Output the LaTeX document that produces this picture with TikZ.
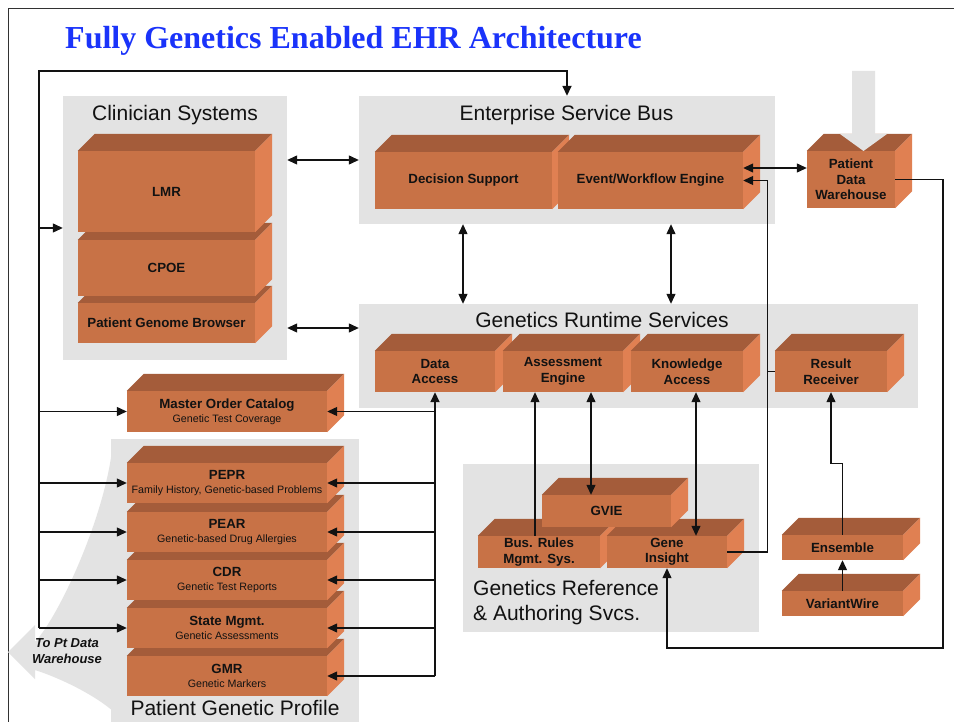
\documentclass[tikz,border=0pt]{standalone}
\usepackage{fontspec}
\setmainfont{Liberation Sans}
\newfontfamily\titlefont{Liberation Serif}
\usetikzlibrary{arrows.meta,calc}

\definecolor{grpgray}{RGB}{227,227,227}
\definecolor{blkfront}{RGB}{200,114,70}
\definecolor{blktopc}{RGB}{164,92,58}
\definecolor{blksidec}{RGB}{224,128,82}
\definecolor{titleblue}{RGB}{26,51,250}
\definecolor{ink}{RGB}{18,18,18}
\definecolor{framec}{RGB}{50,50,50}

\tikzset{
  grp/.style={fill=grpgray, draw=none, inner sep=0pt},
  grptitle/.style={inner sep=0pt, text=ink, font=\fontsize{21}{24}\selectfont},
  blk/.style={fill=blkfront, draw=none, inner sep=0pt, align=center, text=ink,
    font=\fontsize{13.3}{15.5}\selectfont\bfseries},
  blksub/.style={font=\fontsize{13.3}{14}\selectfont\bfseries},
  tip/.style={-{Triangle[length=10pt,width=9pt]}},
  arr/.style={draw=ink, line width=1.2pt, tip},
  dbl/.style={draw=ink, line width=1.2pt, {Triangle[length=10pt,width=9pt]}-{Triangle[length=10pt,width=9pt]}},
  bus/.style={draw=ink, line width=1.7pt},
  plain/.style={draw=ink, line width=1.2pt},
}

% 3-D block: front face is a named node, top and side faces are added behind it
% #1 extra options, #2 name, #3 x, #4 y (centre of front face), #5 width, #6 height, #7 label
\newcommand\brick[7][]{%
  \node[blk, minimum width=#5pt, minimum height=#6pt, #1] (#2) at (#3,#4) {#7};
  \fill[blktopc] (#2.north west) -- ([shift={(17pt,17pt)}]#2.north west)
    -- ([shift={(17pt,17pt)}]#2.north east) -- (#2.north east) -- cycle;
  \fill[blksidec] (#2.north east) -- ([shift={(17pt,17pt)}]#2.north east)
    -- ([shift={(17pt,17pt)}]#2.south east) -- (#2.south east) -- cycle;
}
\newcommand\subtxt[1]{{\fontsize{10.7}{14}\selectfont\mdseries #1}}

\begin{document}
\begin{tikzpicture}[x=1pt,y=-1pt]
\useasboundingbox (0,0) rectangle (954,722);
\fill[white] (0,0) rectangle (954,722);

% slide frame
\draw[framec, line width=1pt] (954,8.5) -- (8.5,8.5) -- (8.5,722);

% heading
\node[anchor=base west, inner sep=0pt, text=titleblue,
  font=\titlefont\bfseries\fontsize{32}{36}\selectfont] (title) at (65,48.5)
  {Fully Genetics Enabled EHR Architecture};

% broad curved arrow behind the profile stack
\fill[grpgray] (8,652) -- (35,625) -- (35,642)
  .. controls (60,615) and (108,510) .. (113,440) -- (116,440) -- (116,722)
  -- (114,722) -- (114,712)
  .. controls (95,695) and (60,678) .. (35,670) -- (35,679) -- cycle;
\node[inner sep=0pt, text=ink, font=\fontsize{13}{16}\selectfont\bfseries\itshape, align=center]
  (topdw) at (67,651) {To Pt Data\\Warehouse};

% service groups
\node[grp, minimum width=224pt, minimum height=264pt] (cs) at (175,228) {};
\node[grp, minimum width=416pt, minimum height=128pt] (esb) at (567,160) {};
\node[grp, minimum width=559pt, minimum height=104pt] (grs) at (638.5,356) {};
\node[grp, minimum width=296pt, minimum height=168pt] (gras) at (611,548) {};
\node[grp, minimum width=248pt, minimum height=283pt] (pgp) at (235,580.5) {};

\node[grptitle, anchor=base] (cst) at (175,121) {Clinician Systems};
\node[grptitle, anchor=base] (esbt) at (566.5,121) {Enterprise Service Bus};
\node[grptitle, anchor=base] (grst) at (602,328) {Genetics Runtime Services};
\node[grptitle, anchor=base west] (grast1) at (473,595) {Genetics Reference};
\node[grptitle, anchor=base west] (grast2) at (473,620) {\& Authoring Svcs.};
\node[grptitle, anchor=base] (pgpt) at (235,715) {Patient Genetic Profile};

% clinician systems
\brick{pgb}{166.5}{323}{177}{40}{Patient Genome Browser}
\brick{cpoe}{166.5}{268}{177}{56}{CPOE}
\brick{lmr}{166.5}{191.5}{177}{81}{LMR}

% enterprise service bus
\brick{ds}{463.5}{180.5}{177}{57}{Decision Support}
\brick{ewe}{650.5}{180.5}{185}{57}{Event/Workflow Engine}
\brick{pdw}{851}{179.5}{88}{57}{Patient\\Data\\Warehouse}

% genetics runtime services
\brick{da}{435}{371.5}{120}{41}{Data\\Access}
\brick{ae}{563}{371.5}{120}{41}{Assessment\\Engine}
\brick{ka}{687}{371.5}{112}{41}{Knowledge\\Access}
\brick{rr}{831}{371.5}{112}{41}{Result\\Receiver}

% order catalog and patient genetic profile
\brick[blksub]{moc}{227}{411.5}{200}{41}{Master Order Catalog\\\subtxt{Genetic Test Coverage}}
\brick[blksub]{gmr}{227}{676}{200}{40}{GMR\\\subtxt{Genetic Markers}}
\brick[blksub]{state}{227}{628}{200}{40}{State Mgmt.\\\subtxt{Genetic Assessments}}
\brick[blksub]{cdr}{227}{580}{200}{40}{CDR\\\subtxt{Genetic Test Reports}}
\brick[blksub]{pear}{227}{532}{200}{40}{PEAR\\\subtxt{Genetic-based Drug Allergies}}
\brick[blksub]{pepr}{227}{483}{200}{40}{PEPR\\\subtxt{Family History, Genetic-based Problems}}

% genetics reference & authoring services
\brick{br}{539}{552}{122}{32}{Bus. Rules\\Mgmt. Sys.}
\brick{gi}{667}{552}{120}{32}{Gene\\Insight}
\brick{gvie}{606.5}{511}{129}{32}{GVIE}

% external sources
\brick{vw}{842.5}{603.5}{121}{25}{VariantWire}
\brick{ens}{842.5}{547.5}{121}{25}{Ensemble}

% feed into the data warehouse
\fill[grpgray] (852,71) -- (875,71) -- (875,134) -- (887,134) -- (863.5,151)
  -- (840,134) -- (852,134) -- cycle;

% left distribution bus
\coordinate (ltop) at (39,71);
\draw[bus, tip] (ltop |- state.west) -- (ltop) -| (esb.north);
\foreach \n in {cs,moc,pepr,pear,cdr,state}
  \draw[arr] (ltop |- \n.west) -- (\n.west);

% clinician systems <-> services
\draw[dbl] (cs.east |- esb.west) -- (esb.west);
\coordinate (grsl) at ([yshift=28pt]grs.west);
\draw[dbl] (cs.east |- grsl) -- (grsl);

% bus <-> runtime services
\coordinate (eL) at ([xshift=-104pt]esb.south);
\coordinate (eR) at ([xshift=104pt]esb.south);
\draw[dbl] (eL) -- (eL |- grs.north);
\draw[dbl] (eR) -- (eR |- grs.north);

% workflow engine <-> warehouse, events back into the engine
\draw[dbl] ([yshift=12.5pt]ewe.east) -- ([yshift=12.5pt]ewe.east -| pdw.west);
\coordinate (fbx) at ([xshift=24pt]ewe.east);
\draw[arr] (gi.east) -| (fbx) -- (ewe.east);
\draw[plain] (rr.west) -- (rr.west -| fbx);

% warehouse loop to Gene Insight
\coordinate (rc) at (943,648);
\draw[arr] (pdw.east) -| (rc) -| (gi.south);

% data access bus to the profile
\draw[bus, tip] (da.south |- gmr.east) -- (da.south);
\foreach \n in {moc,pepr,pear,cdr,state,gmr}
  \draw[arr] (da.south |- \n.east) -- (\n.east);

% reference services to runtime
\coordinate (brt) at ([xshift=-4pt]br.north);
\draw[arr] (brt) -- (brt |- ae.south);
\coordinate (aeb) at ([xshift=28pt]ae.south);
\draw[dbl] (aeb) -- (aeb |- gvie.north);
\coordinate (kab) at ([xshift=9pt]ka.south);
\draw[dbl] (kab) -- (kab |- gi.north);

% external results
\coordinate (jog) at ([yshift=-71.5pt]rr.south);
\draw[arr] (ens.north) |- (jog) -- (rr.south);
\draw[arr] (vw.north) -- (ens.south);
\end{tikzpicture}
\end{document}
